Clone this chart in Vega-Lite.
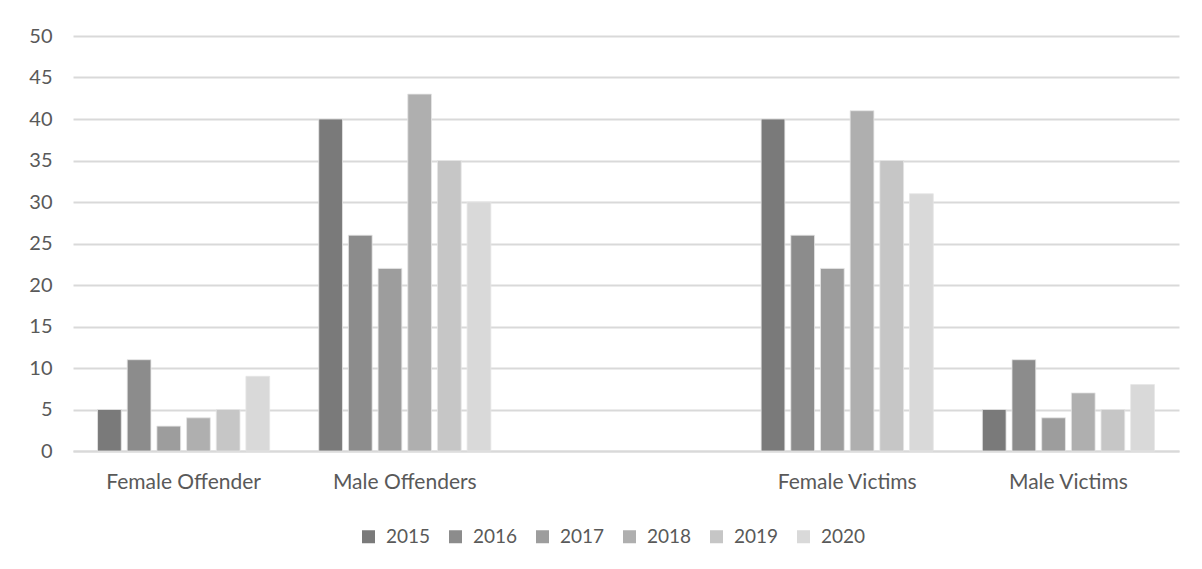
{
  "$schema": "https://vega.github.io/schema/vega-lite/v6.json",
  "autosize": "none",
  "width": 1106,
  "height": 415,
  "padding": {"left": 73, "top": 36, "right": 23, "bottom": 118},
  "background": "white",
  "config": {
    "view": {"stroke": null},
    "font": "Lato"
  },
  "data": {
    "values": [
      {"group": "Female Offender", "year": "2015", "count": 5},
      {"group": "Female Offender", "year": "2016", "count": 11},
      {"group": "Female Offender", "year": "2017", "count": 3},
      {"group": "Female Offender", "year": "2018", "count": 4},
      {"group": "Female Offender", "year": "2019", "count": 5},
      {"group": "Female Offender", "year": "2020", "count": 9},
      {"group": "Male Offenders", "year": "2015", "count": 40},
      {"group": "Male Offenders", "year": "2016", "count": 26},
      {"group": "Male Offenders", "year": "2017", "count": 22},
      {"group": "Male Offenders", "year": "2018", "count": 43},
      {"group": "Male Offenders", "year": "2019", "count": 35},
      {"group": "Male Offenders", "year": "2020", "count": 30},
      {"group": "Female Victims", "year": "2015", "count": 40},
      {"group": "Female Victims", "year": "2016", "count": 26},
      {"group": "Female Victims", "year": "2017", "count": 22},
      {"group": "Female Victims", "year": "2018", "count": 41},
      {"group": "Female Victims", "year": "2019", "count": 35},
      {"group": "Female Victims", "year": "2020", "count": 31},
      {"group": "Male Victims", "year": "2015", "count": 5},
      {"group": "Male Victims", "year": "2016", "count": 11},
      {"group": "Male Victims", "year": "2017", "count": 4},
      {"group": "Male Victims", "year": "2018", "count": 7},
      {"group": "Male Victims", "year": "2019", "count": 5},
      {"group": "Male Victims", "year": "2020", "count": 8}
    ]
  },
  "mark": {"type": "bar", "stroke": "#e6e6e6", "strokeWidth": 0.8},
  "encoding": {
    "x": {
      "field": "group",
      "type": "nominal",
      "sort": null,
      "scale": {
        "domain": ["Female Offender", "Male Offenders", " ", "Female Victims", "Male Victims"],
        "paddingInner": 0.195,
        "paddingOuter": 0.0975
      },
      "axis": {
        "title": null,
        "labelAngle": 0,
        "labelFontSize": 21,
        "labelColor": "#595959",
        "labelPadding": 20,
        "ticks": false,
        "domainColor": "#d9d9d9",
        "domainWidth": 2,
        "grid": false
      }
    },
    "xOffset": {
      "field": "year",
      "type": "nominal",
      "scale": {"paddingInner": 0.2, "paddingOuter": 0.1}
    },
    "y": {
      "field": "count",
      "type": "quantitative",
      "scale": {"domain": [0, 50], "nice": false},
      "axis": {
        "title": null,
        "values": [0, 5, 10, 15, 20, 25, 30, 35, 40, 45, 50],
        "labelFontSize": 20,
        "labelColor": "#595959",
        "labelPadding": 21,
        "ticks": false,
        "domain": false,
        "gridColor": "#d9d9d9",
        "gridWidth": 2
      }
    },
    "color": {
      "field": "year",
      "type": "nominal",
      "scale": {
        "domain": ["2015", "2016", "2017", "2018", "2019", "2020"],
        "range": ["#7a7a7a", "#8c8c8c", "#9d9d9d", "#afafaf", "#c6c6c6", "#d9d9d9"]
      },
      "legend": {
        "title": null,
        "orient": "none",
        "direction": "horizontal",
        "legendX": 286,
        "legendY": 491,
        "symbolType": "square",
        "symbolSize": 169,
        "symbolStrokeWidth": 0,
        "labelFontSize": 19,
        "labelColor": "#595959",
        "labelOffset": 8,
        "columnPadding": 15
      }
    }
  }
}
